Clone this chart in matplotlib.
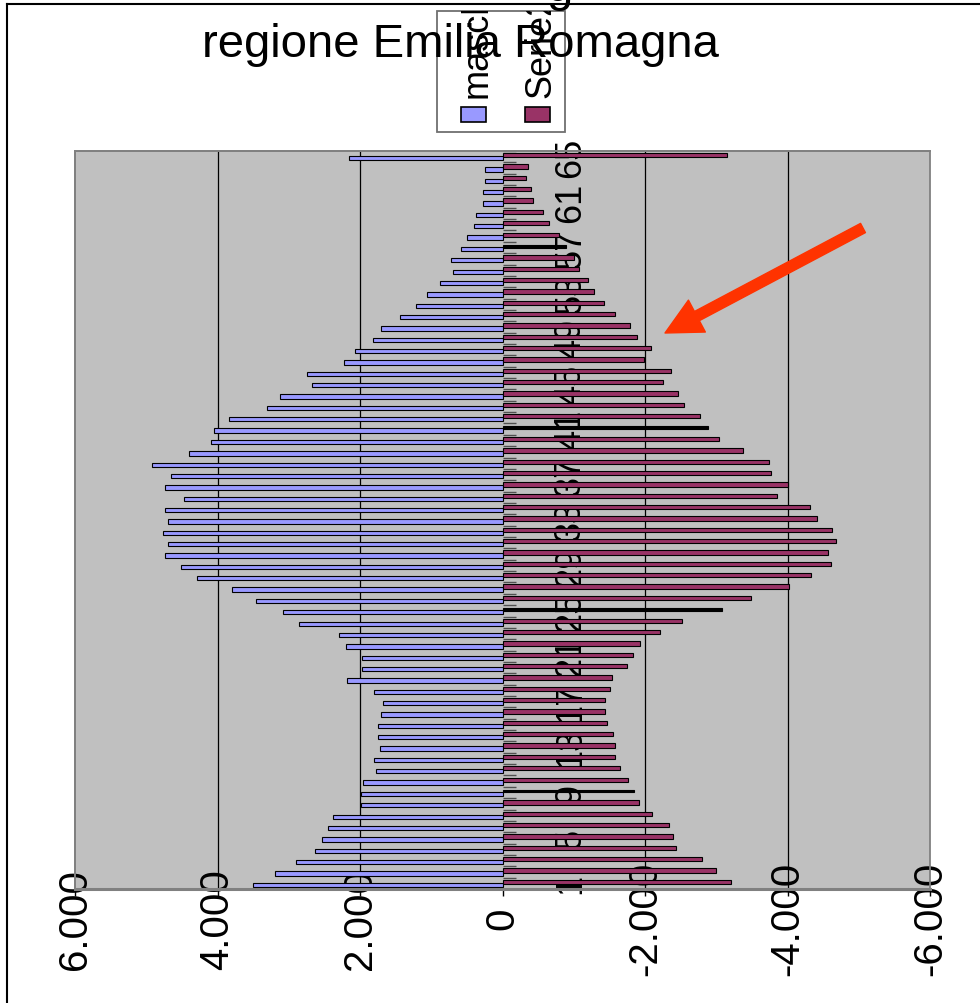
import matplotlib
matplotlib.use("Agg")
import matplotlib.pyplot as plt
from matplotlib.patches import Rectangle, FancyArrowPatch
from matplotlib.lines import Line2D
from matplotlib.ticker import FuncFormatter

plt.rcParams["font.family"] = ["Liberation Sans", "DejaVu Sans"]

# classi di età (categorie 1..65)
classi = list(range(1, 66))
maschi = [3506, 3198, 2903, 2637, 2539, 2454, 2384, 1992, 1992, 1964,
          1781, 1809, 1725, 1753, 1753, 1711, 1683, 1809, 2188, 1978,
          1978, 2202, 2300, 2861, 3086, 3464, 3801, 4292, 4516, 4740,
          4698, 4769, 4698, 4740, 4474, 4740, 4656, 4923, 4404, 4095,
          4053, 3843, 3310, 3128, 2679, 2749, 2230, 2076, 1823, 1711,
          1445, 1220, 1066, 884, 701, 729, 589, 505, 393, 365,
          280, 280, 252, 252, 2160]
serie2 = [3212, 3001, 2805, 2440, 2398, 2342, 2104, 1921, 1851, 1767,
          1655, 1585, 1585, 1557, 1473, 1445, 1445, 1515, 1543, 1753,
          1837, 1935, 2216, 2525, 3086, 3492, 4025, 4334, 4614, 4572,
          4684, 4628, 4418, 4320, 3857, 4011, 3773, 3745, 3380, 3043,
          2889, 2777, 2553, 2468, 2258, 2370, 1992, 2090, 1893, 1795,
          1585, 1431, 1290, 1206, 1080, 1010, 898, 799, 659, 575,
          435, 393, 323, 351, 3156]
classi_nere = [9, 25, 41, 57]          # barre della seconda serie rese in nero
etichette = classi[::4]                # 1, 5, 9, ... 65
valori_asse = [6000, 4000, 2000, 0, -2000, -4000, -6000]

BLU = "#9999FF"
BORDEAUX = "#993366"
GRIGIO = "#C0C0C0"
W, H = 980, 1004

fig = plt.figure(figsize=(W / 100, H / 100), dpi=100)
ax = fig.add_axes([75 / W, 1 - 890 / H, 855 / W, 738 / H])
ax.set_facecolor(GRIGIO)

pos = [c - 0.5 for c in classi]
ax.barh([p - 0.13 for p in pos], maschi, height=0.38, color=BLU,
        edgecolor="black", linewidth=0.8, zorder=3)
colori_f = ["black" if c in classi_nere else BORDEAUX for c in classi]
spessori_f = [0.26 if c in classi_nere else 0.38 for c in classi]
ax.barh([p + 0.13 for p in pos], [-v for v in serie2], height=spessori_f,
        color=colori_f, edgecolor="black", linewidth=0.8, zorder=3)

ax.set_xlim(6000, -6000)
ax.set_ylim(0, len(classi))

# asse dei valori in basso
ax.set_xticks(valori_asse)
ax.xaxis.set_major_formatter(FuncFormatter(lambda v, _: f"{v:,.0f}".replace(",", ".")))
ax.tick_params(axis="x", length=5, width=1, color="black", pad=16,
               labelsize=29, labelrotation=90)
for t in ax.get_xticklabels():
    t.set_va("center")
ax.set_axisbelow(True)
ax.grid(axis="x", color="black", linewidth=0.9)
for v, gl in zip(valori_asse, ax.get_xgridlines()):
    if v in (0, 6000, -6000):
        gl.set_visible(False)

# asse delle categorie sullo zero
ax.yaxis.tick_right()
ax.spines["right"].set_position(("data", 0))
ax.spines["right"].set_color("none")
ax.set_yticks([c - 0.5 for c in etichette])
ax.set_yticklabels([str(c) for c in etichette], rotation=90, fontsize=26)
for t in ax.get_yticklabels():
    t.set_ha("center")
    t.set_va("center")
ax.tick_params(axis="y", which="major", length=0, pad=49)
ax.set_yticks(range(len(classi) + 1), minor=True)
ax.tick_params(axis="y", which="minor", direction="out", length=9.4,
               width=1, color="#505050")

for s in ("left", "top"):
    ax.spines[s].set_color("#808080")
    ax.spines[s].set_linewidth(1.3)
ax.spines["bottom"].set_color("#808080")
ax.spines["bottom"].set_linewidth(2.2)
ax.add_patch(Rectangle((0, 0), 1, 1, transform=ax.transAxes, fill=False,
                       edgecolor="#808080", linewidth=1.3, clip_on=False, zorder=5))

# legenda (testo ruotato e tagliato dal riquadro), sotto al titolo
box = Rectangle((437 / W, 1 - 133 / H), 128 / W, 121 / H, transform=fig.transFigure,
                facecolor="white", edgecolor="#707070", linewidth=1.3, zorder=1)
fig.add_artist(box)
for xc, nome, col in [(477, "maschi", BLU), (541, "Serie2", BORDEAUX)]:
    t = fig.text(xc / W, 1 - 98 / H, nome, rotation=90, ha="center",
                 va="bottom", fontsize=26, zorder=2)
    t.set_clip_path(box)
    fig.add_artist(Rectangle(((xc - 16) / W, 1 - 123 / H), 25 / W, 15 / H,
                             transform=fig.transFigure, facecolor=col,
                             edgecolor="black", linewidth=1.2, zorder=2))

# titolo (la prima riga è tagliata fuori dall'immagine)
fig.text(460 / W, 1 - 57 / H, "regione Emilia Romagna", ha="center",
         va="baseline", fontsize=34, zorder=10)
fig.text(560 / W, 1 - 1 / H, "g", ha="center", va="baseline", fontsize=34, zorder=10)

# freccia rossa
fig.add_artist(FancyArrowPatch((863 / W, 1 - 229 / H), (665 / W, 1 - 334 / H),
                               transform=fig.transFigure,
                               arrowstyle="simple,head_length=26,head_width=26,tail_width=7.5",
                               mutation_scale=1, color="#FF3300",
                               shrinkA=0, shrinkB=0, zorder=8))

# bordo dell'area del grafico (solo sopra e a sinistra visibili)
fig.add_artist(Line2D([7 / W, 1], [1 - 5 / H, 1 - 5 / H], transform=fig.transFigure,
                      color="black", linewidth=1.5))
fig.add_artist(Line2D([7 / W, 7 / W], [0, 1 - 5 / H], transform=fig.transFigure,
                      color="black", linewidth=1.5))

fig.savefig("out.png", dpi=100)
